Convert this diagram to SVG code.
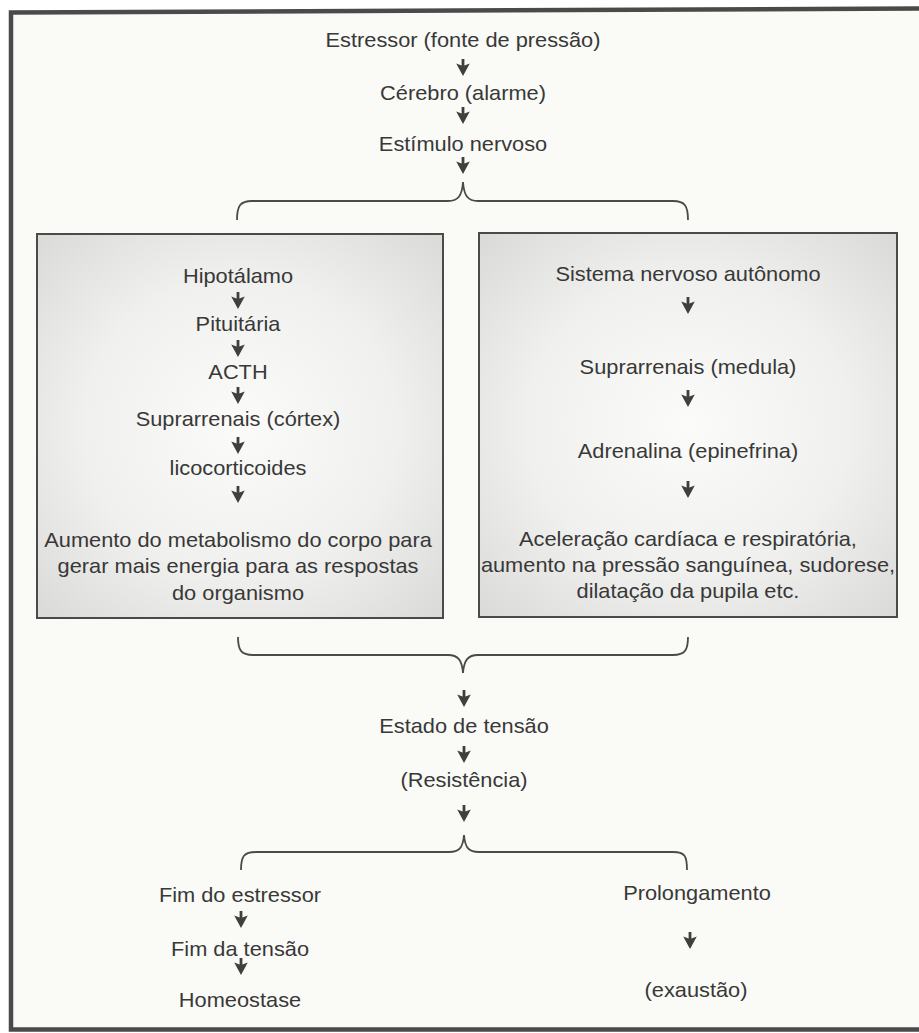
<svg xmlns="http://www.w3.org/2000/svg" xmlns:xlink="http://www.w3.org/1999/xlink" width="919" height="1033" viewBox="0 0 919 1033">
<defs>
<style>
text{font-family:"Liberation Sans",Arial,sans-serif;font-size:20px;fill:#383838;text-anchor:middle}
.arw{fill:#3f3f3f}
.brace{stroke:#4a4a4a;stroke-width:1.8;fill:none}
.box{stroke:#4a4a4a;stroke-width:2;fill:url(#boxfill)}
</style>
<radialGradient id="boxfill" cx="50%" cy="50%" r="70%">
<stop offset="0" stop-color="#fbfbf9"/>
<stop offset="0.55" stop-color="#f0f0ee"/>
<stop offset="1" stop-color="#dadad8"/>
</radialGradient>
<path id="arw" class="arw" d="M-1.4,0 L1.4,0 L1.4,6.6 L6.8,4.6 L0,17 L-6.8,4.6 L-1.4,6.6 Z"/>
</defs>
<rect x="0" y="0" width="919" height="1033" fill="#ffffff"/>
<path d="M919,10 L11,14 L11,1030 L919,1030 Z" fill="#fafaf6"/>
<path d="M919,8.5 L11,12.5 L11,1029.5 L919,1029.5" fill="none" stroke="#4a4a4a" stroke-width="4.5"/>

<g id="n-estressor"><text transform="translate(463 0) scale(1.09 1)" y="47">Estressor (fonte de pressão)</text></g>
<g id="n-cerebro"><text transform="translate(463 0) scale(1.09 1)" y="100">Cérebro (alarme)</text></g>
<g id="n-estimulo"><text transform="translate(463 0) scale(1.09 1)" y="151">Estímulo nervoso</text></g>

<g id="box-left">
<rect class="box" x="37" y="234" width="406" height="384"/>
<text transform="translate(238 0) scale(1.09 1)" y="283">Hipotálamo</text>
<text transform="translate(238 0) scale(1.09 1)" y="331">Pituitária</text>
<text transform="translate(238 0) scale(1.09 1)" y="379">ACTH</text>
<text transform="translate(238 0) scale(1.09 1)" y="426">Suprarrenais (córtex)</text>
<text transform="translate(238 0) scale(1.09 1)" y="475">licocorticoides</text>
<text transform="translate(238 0) scale(1.09 1)" y="547">Aumento do metabolismo do corpo para</text>
<text transform="translate(238 0) scale(1.09 1)" y="573">gerar mais energia para as respostas</text>
<text transform="translate(238 0) scale(1.09 1)" y="600">do organismo</text>
</g>

<g id="box-right">
<rect class="box" x="479" y="233" width="418" height="384"/>
<text transform="translate(688 0) scale(1.09 1)" y="281">Sistema nervoso autônomo</text>
<text transform="translate(688 0) scale(1.09 1)" y="374">Suprarrenais (medula)</text>
<text transform="translate(688 0) scale(1.09 1)" y="458">Adrenalina (epinefrina)</text>
<text transform="translate(688 0) scale(1.09 1)" y="546">Aceleração cardíaca e respiratória,</text>
<text transform="translate(688 0) scale(1.09 1)" y="572">aumento na pressão sanguínea, sudorese,</text>
<text transform="translate(688 0) scale(1.09 1)" y="598">dilatação da pupila etc.</text>
</g>

<g id="n-estado"><text transform="translate(464 0) scale(1.09 1)" y="733">Estado de tensão</text></g>
<g id="n-resistencia"><text transform="translate(464 0) scale(1.09 1)" y="787">(Resistência)</text></g>
<g id="n-fim-estressor"><text transform="translate(240 0) scale(1.09 1)" y="902">Fim do estressor</text></g>
<g id="n-fim-tensao"><text transform="translate(240 0) scale(1.09 1)" y="956">Fim da tensão</text></g>
<g id="n-homeostase"><text transform="translate(240 0) scale(1.09 1)" y="1007">Homeostase</text></g>
<g id="n-prolongamento"><text transform="translate(697 0) scale(1.09 1)" y="900">Prolongamento</text></g>
<g id="n-exaustao"><text transform="translate(696 0) scale(1.09 1)" y="997">(exaustão)</text></g>

<g id="connectors">
<use href="#arw" xlink:href="#arw" x="463" y="59"/>
<use href="#arw" xlink:href="#arw" x="463" y="107"/>
<use href="#arw" xlink:href="#arw" x="463" y="157"/>
<path class="brace" d="M237,220 C237,206 240,201 252,201 L448,201 C458,201 462,196 463,182 C464,196 468,201 478,201 L673,201 C685,201 688,206 688,220"/>
<use href="#arw" xlink:href="#arw" x="238" y="292"/>
<use href="#arw" xlink:href="#arw" x="238" y="340"/>
<use href="#arw" xlink:href="#arw" x="238" y="387"/>
<use href="#arw" xlink:href="#arw" x="238" y="437"/>
<use href="#arw" xlink:href="#arw" x="238" y="486"/>
<use href="#arw" xlink:href="#arw" x="688" y="297"/>
<use href="#arw" xlink:href="#arw" x="688" y="390"/>
<use href="#arw" xlink:href="#arw" x="688" y="481"/>
<path class="brace" d="M238,637 C238,650 241,655 253,655 L448,655 C458,655 462,660 463,673 C464,660 468,655 478,655 L673,655 C685,655 688,650 688,637"/>
<use href="#arw" xlink:href="#arw" x="464" y="690"/>
<use href="#arw" xlink:href="#arw" x="464" y="746"/>
<use href="#arw" xlink:href="#arw" x="464" y="805"/>
<path class="brace" d="M241,870 C241,856 244,852 256,852 L449,852 C459,852 463,848 464,835 C465,848 469,852 479,852 L673,852 C685,852 687,856 687,870"/>
<use href="#arw" xlink:href="#arw" x="241" y="911"/>
<use href="#arw" xlink:href="#arw" x="241" y="958"/>
<use href="#arw" xlink:href="#arw" x="690" y="932"/>
</g>
</svg>
